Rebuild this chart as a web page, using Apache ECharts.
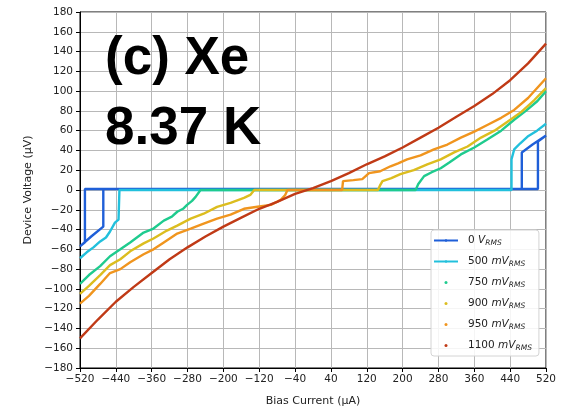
<!DOCTYPE html>
<html>
<head>
<meta charset="utf-8">
<script src="https://cdn.jsdelivr.net/npm/echarts@6/dist/echarts.min.js"></script>
<style>
  html, body { margin: 0; padding: 0; background: #fff; }
  #chart { width: 562px; height: 412px; }
</style>
</head>
<body>
<div id="chart"></div>
<script>
// bias current (uA) vs device voltage (uV)
var curve0 = [[-520,-57],[-495,-47],[-468,-37],[-468,1],[0,1],[466,1],[466,38],[490,46],[520,55],
  [502,49],[502,1],[0,1],[-509,1],[-509,-53],[-520,-57]];
var curve500 = [[-520,-69],[-505,-63],[-490,-58],[-475,-52],[-462,-48],[-453,-42],[-442,-33],[-434,-30],
  [-432,0],[0,0],[443,0],[443,31],[449,41],[462,47],[479,54],[500,60],[520,67]];
var curve750 = [[-520,-95],[-500,-86],[-475,-77],[-453,-67],[-430,-60],[-408,-53],[-390,-47],[-378,-43],
  [-356,-39],[-333,-31],[-315,-27],[-303,-22],[-290,-19],[-281,-15],[-270,-11],[-262,-7],[-251,0],
  [0,0],[229,0],[235,6],[248,14],[265,18],[285,22],[305,28],[330,36],[360,43],[389,51],[420,60],
  [449,71],[475,80],[501,90],[520,100]];
var curve900 = [[-520,-105],[-500,-97],[-475,-86],[-453,-76],[-430,-70],[-408,-62],[-378,-54],[-356,-49],
  [-326,-41],[-303,-36],[-273,-29],[-244,-24],[-214,-17],[-184,-13],[-154,-8],[-140,-5],[-131,0],
  [0,0],[145,0],[150,5],[155,9],[175,12],[195,16],[225,20],[255,26],[285,31],[315,38],[345,44],
  [375,53],[405,60],[434,69],[465,79],[494,91],[520,103]];
var curve950 = [[-520,-115],[-500,-107],[-475,-95],[-453,-84],[-430,-80],[-408,-73],[-378,-65],[-356,-60],
  [-333,-53],[-303,-44],[-273,-39],[-244,-34],[-214,-29],[-184,-25],[-154,-19],[-124,-17],[-94,-15],
  [-72,-10],[-62,-5],[-57,0],[0,0],[65,0],[67,9],[90,10],[110,11],[120,15],[125,17],[150,19],[173,24],
  [190,27],[210,31],[240,35],[270,41],[300,46],[330,53],[360,59],[390,66],[420,73],[449,81],
  [480,93],[520,113]];
var curve1100 = [[-520,-150],[-480,-131],[-440,-113],[-400,-98],[-360,-84],[-320,-70],[-280,-58],
  [-240,-47],[-200,-37],[-160,-28],[-120,-19],[-80,-12],[-40,-4],[0,2],[40,9],[80,17],[120,26],
  [160,34],[200,43],[240,53],[280,63],[320,74],[360,85],[400,97],[440,111],[480,128],[520,148]];

var names = ['0', '500', '750', '900', '950', '1100'];
var curves = [curve0, curve500, curve750, curve900, curve950, curve1100];
var colors = ['#1f5fd8', '#22c0dc', '#1fcb8e', '#dcbd1f', '#f0951e', '#c03a16'];

var minus = function (v) { return String(v).replace('-', '\u2212'); };

var myChart = echarts.init(document.getElementById('chart'));

var series = names.map(function (n, i) {
  return {
    name: n,
    type: 'line',
    data: curves[i],
    showSymbol: false,
    symbol: 'circle',
    symbolSize: 3,
    color: colors[i],
    lineStyle: { width: 2.4, color: colors[i] },
    animation: false
  };
});

var option = {
  backgroundColor: '#fff',
  animation: false,
  grid: { left: 80, right: 16, top: 12, bottom: 43, show: true, borderColor: '#000', borderWidth: 1 },
  xAxis: {
    type: 'value', min: -520, max: 520, interval: 80,
    name: 'Bias Current (\u03bcA)', nameLocation: 'middle', nameGap: 28,
    nameTextStyle: { fontFamily: 'DejaVu Sans', fontSize: 11, color: '#222' },
    axisLine: { onZero: false, lineStyle: { color: '#000', width: 1 } },
    axisTick: { length: 4, lineStyle: { color: '#000' } },
    axisLabel: { formatter: minus, fontFamily: 'DejaVu Sans', fontSize: 10.5, color: '#222', margin: 6 },
    splitLine: { show: true, lineStyle: { color: '#b8b8b8', width: 1 } }
  },
  yAxis: {
    type: 'value', min: -180, max: 180, interval: 20,
    name: 'Device Voltage (\u03bcV)', nameLocation: 'middle', nameGap: 46,
    nameTextStyle: { fontFamily: 'DejaVu Sans', fontSize: 11, color: '#222' },
    axisLine: { show: true, onZero: false, lineStyle: { color: '#000', width: 1 } },
    axisTick: { show: true, length: 4, lineStyle: { color: '#000' } },
    axisLabel: { formatter: minus, fontFamily: 'DejaVu Sans', fontSize: 10.5, color: '#222', margin: 7 },
    splitLine: { show: true, lineStyle: { color: '#b8b8b8', width: 1 } }
  },
  legend: {
    orient: 'vertical',
    left: 431, top: 230,
    itemWidth: 24, itemHeight: 3, itemGap: 8,
    padding: [4, 7, 4, 2],
    backgroundColor: 'rgba(255,255,255,0.85)',
    borderColor: '#d4d4d4', borderWidth: 1, borderRadius: 3,
    data: names.map(function (n, i) {
      var d = { name: n };
      if (i >= 2) d.icon = 'circle';
      return d;
    }),
    formatter: function (n) {
      return n === '0' ? '{n|0 }{i|V}{s|RMS}' : '{n|' + n + ' }{i|mV}{s|RMS}';
    },
    textStyle: {
      fontFamily: 'DejaVu Sans', fontSize: 10.5, color: '#222',
      rich: {
        n: { fontFamily: 'DejaVu Sans', fontSize: 10.5, color: '#222', lineHeight: 14, padding: [0, 0, 0, 5] },
        i: { fontFamily: 'DejaVu Sans', fontStyle: 'italic', fontSize: 10.5, color: '#222', lineHeight: 14 },
        s: { fontFamily: 'DejaVu Sans', fontStyle: 'italic', fontSize: 7.5, color: '#222', lineHeight: 14, padding: [5, 0, 0, 0] }
      }
    }
  },
  graphic: [
    { type: 'text', left: 105, top: 33, z: 100,
      style: { text: '(c) Xe', font: 'bold 53px "Liberation Sans", Arial', fill: '#000' } },
    { type: 'text', left: 105, top: 103, z: 100,
      style: { text: '8.37 K', font: 'bold 53px "Liberation Sans", Arial', fill: '#000' } }
  ],
  series: series
};

myChart.setOption(option);
</script>
</body>
</html>
